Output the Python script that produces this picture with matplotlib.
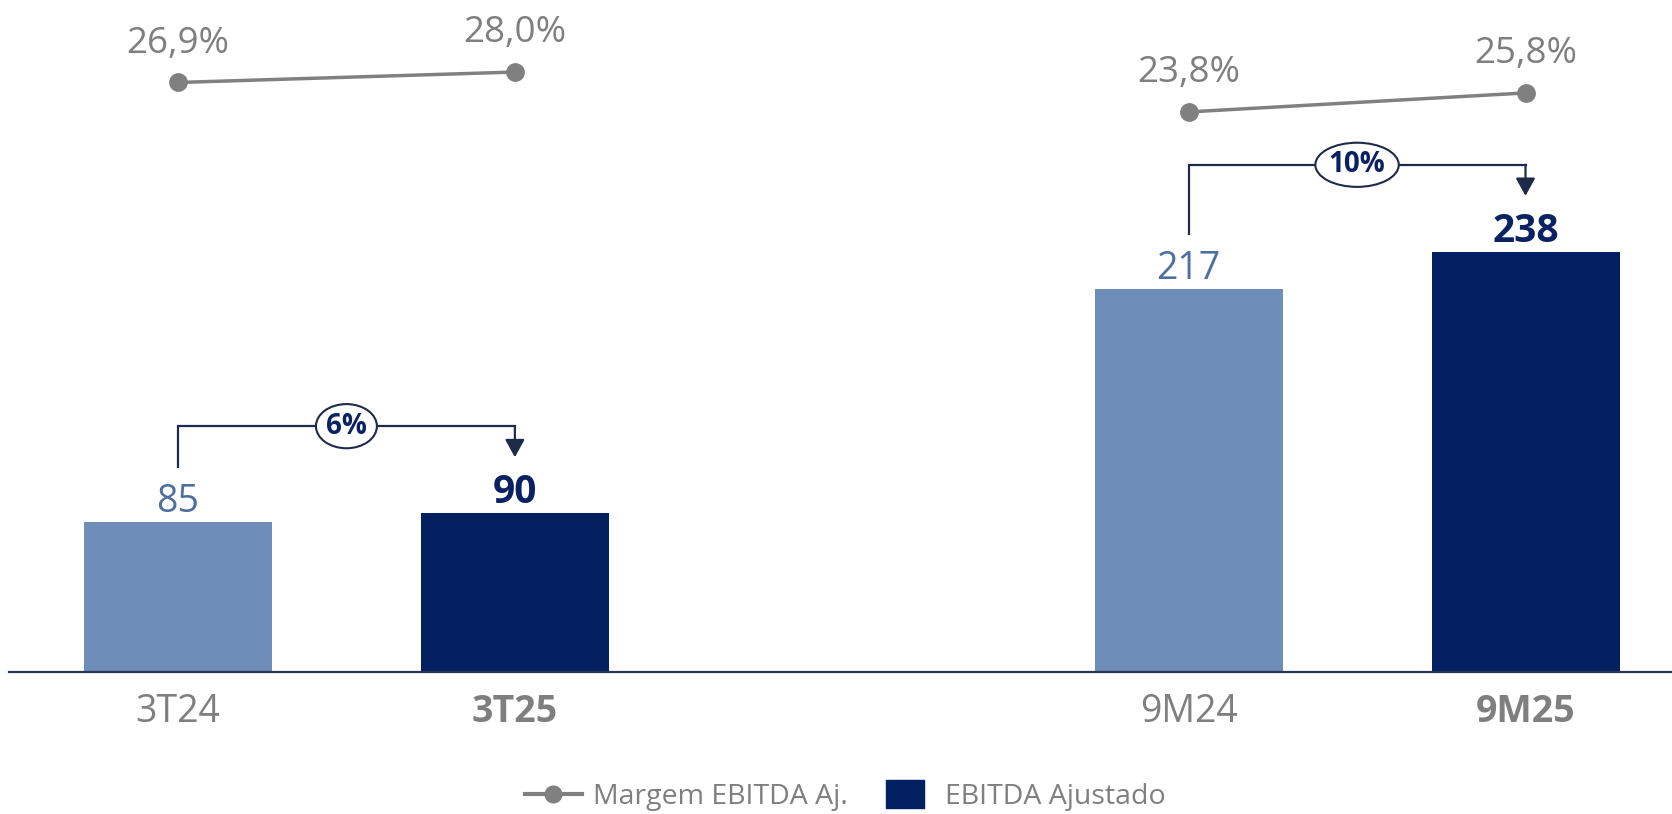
import matplotlib
matplotlib.use("Agg")
import matplotlib.pyplot as plt
from matplotlib.lines import Line2D

plt.rcParams['font.family'] = ['Open Sans', 'DejaVu Sans']

# ---- data ----
categories = ["3T24", "3T25", "9M24", "9M25"]
ebitda = [85, 90, 217, 238]
margin = [26.9, 28.0, 23.8, 25.8]
margin_labels = ["26,9%", "28,0%", "23,8%", "25,8%"]
growth_labels = ["6%", "10%"]
bold_flags = [False, True, False, True]

# ---- style ----
LIGHT = '#6f8db9'
DARK = '#022060'
LIGHT_TXT = '#4f6fa0'
DARK_TXT = '#0a2263'
GRAY = '#808080'
BRACKET = '#1e2a4a'

W, H = 1672, 814
fig = plt.figure(figsize=(W / 100, H / 100), dpi=100)
base_px = 672
left_px = 9
ax = fig.add_axes([left_px / W, 1 - base_px / H, 1 - left_px / W, base_px / H])

xpos = [0, 1, 3, 4]
unit_px = (1525.5 - 178) / 4
ax.set_xlim(-(178 - left_px) / unit_px, (W - 178) / unit_px)
px_per_val = 1.766
ax.set_ylim(0, base_px / px_per_val)

colors = [LIGHT if not b else DARK for b in bold_flags]
ax.bar(xpos, ebitda, width=188 / unit_px, color=colors, zorder=2)

for x, v, b in zip(xpos, ebitda, bold_flags):
    ax.annotate(str(v), xy=(x, v), xytext=(0, 7), textcoords='offset points',
                ha='center', va='baseline', fontsize=28 if b else 27,
                fontweight='bold' if b else 'normal',
                color=DARK_TXT if b else LIGHT_TXT)

for s in ['top', 'left', 'right']:
    ax.spines[s].set_visible(False)
ax.spines['bottom'].set_color('#2b3553')
ax.spines['bottom'].set_linewidth(1.6)
ax.set_yticks([])
ax.set_xticks(xpos)
ax.set_xticklabels(categories, fontsize=27, color='#7f7f7f')
for lbl, b in zip(ax.get_xticklabels(), bold_flags):
    if b:
        lbl.set_fontweight('bold')
ax.tick_params(axis='x', length=0, pad=15)

# ---- margin line on twin axis ----
ax2 = ax.twinx()
ax2.set_position(ax.get_position())
slope = 9.5  # px per pct
ax2.set_ylim(26.125 - (base_px - 89.85) / slope, 26.125 + 89.85 / slope)
ax2.axis('off')
for i in (0, 2):
    ax2.plot(xpos[i:i + 2], margin[i:i + 2], color=GRAY, lw=2.5,
             marker='o', ms=12.5, zorder=3)
for x, m, t in zip(xpos, margin, margin_labels):
    ax2.annotate(t, xy=(x, m), xytext=(0, 21.5), textcoords='offset points',
                 ha='center', va='baseline', fontsize=26.5, color='#7f7f7f')

# ---- growth brackets ----
br_off = 49.2
start_off = 31
tip_off = 31.6
for k, i in enumerate((0, 2)):
    x1, x2 = xpos[i], xpos[i + 1]
    v1, v2 = ebitda[i], ebitda[i + 1]
    yb = max(v1, v2) + br_off
    ax.plot([x1, x1, x2], [v1 + start_off, yb, yb], color=BRACKET, lw=1.6,
            solid_joinstyle='miter', zorder=4)
    ax.annotate('', xy=(x2, v2 + tip_off), xytext=(x2, yb),
                arrowprops=dict(arrowstyle='-|>,head_length=0.4,head_width=0.22',
                                mutation_scale=27, lw=1.6, color=BRACKET,
                                shrinkA=0, shrinkB=0), zorder=4)
    ax.text((x1 + x2) / 2, yb, growth_labels[k], ha='center', va='center',
            fontsize=20, fontweight='bold', color=DARK_TXT, zorder=5,
            bbox=dict(boxstyle='ellipse,pad=0.04', fc='white', ec=BRACKET, lw=1.5))

# ---- legend ----
rect = [(-37, -28), (37, -28), (37, 28), (-37, 28), (-37, -28)]
handles = [
    Line2D([], [], color=GRAY, lw=3, marker='o', ms=12),
    Line2D([], [], color=DARK, ls='none', marker=rect, ms=27),
]
fig.legend(handles, ["Margem EBITDA Aj.", "EBITDA Ajustado"], loc='center',
           bbox_to_anchor=(845 / W, 1 - 797 / H), ncol=2, frameon=False,
           fontsize=20.5, labelcolor='#7f7f7f', handlelength=2.0,
           handletextpad=0.4, columnspacing=1.0)

fig.savefig('out.png', dpi=100)
